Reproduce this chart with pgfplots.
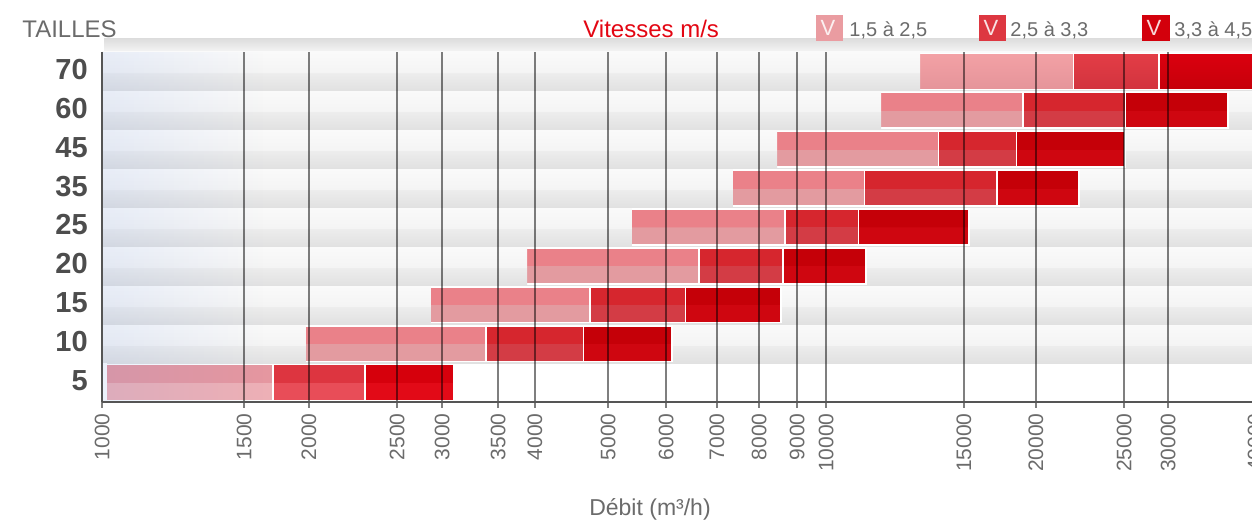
\documentclass[border=0pt]{standalone}
\usepackage{pgfplots}
\pgfplotsset{compat=1.18}
\usepackage{pgfplotstable}
\usepackage{fontspec}
\setmainfont{Liberation Sans}
\usetikzlibrary{fadings}

% colours
\definecolor{oneT}{HTML}{EA8189}\definecolor{oneB}{HTML}{E39BA0}
\definecolor{twoT}{HTML}{D6262E}\definecolor{twoB}{HTML}{D33C45}
\definecolor{thrT}{HTML}{C50008}\definecolor{thrB}{HTML}{CF0610}
\definecolor{oneTa}{HTML}{E597A0}\definecolor{oneBa}{HTML}{EDB0B6}
\definecolor{twoTa}{HTML}{DD3540}\definecolor{twoBa}{HTML}{E84D58}
\definecolor{thrTa}{HTML}{D6000C}\definecolor{thrBa}{HTML}{E20A17}
\definecolor{oneTb}{HTML}{F3A1A5}\definecolor{oneBb}{HTML}{E5949A}
\definecolor{twoTb}{HTML}{E33D46}\definecolor{twoBb}{HTML}{D2333E}
\definecolor{thrTb}{HTML}{DB000F}\definecolor{thrBb}{HTML}{C6000A}
\definecolor{bandT}{HTML}{FAFAFA}\definecolor{bandM2}{HTML}{F4F4F4}
\definecolor{bandM}{HTML}{EDEDED}\definecolor{bandB}{HTML}{E1E1E1}
\definecolor{ticgray}{HTML}{6B6B6B}\definecolor{ylabgray}{HTML}{4D4D4D}
\definecolor{axisgray}{HTML}{555555}\definecolor{titred}{HTML}{E30613}
\definecolor{tintblue}{HTML}{6E96E6}
\definecolor{legA}{HTML}{EA9CA1}\definecolor{legB}{HTML}{DD3741}\definecolor{legC}{HTML}{D3000C}

% glossy shadings (bottom 25bp .. top 75bp)
\pgfdeclareverticalshading{sOne}{100bp}{color(0bp)=(oneB); color(50bp)=(oneB); color(50bp)=(oneT); color(100bp)=(oneT)}
\pgfdeclareverticalshading{sTwo}{100bp}{color(0bp)=(twoB); color(50bp)=(twoB); color(50bp)=(twoT); color(100bp)=(twoT)}
\pgfdeclareverticalshading{sThr}{100bp}{color(0bp)=(thrB); color(50bp)=(thrB); color(50bp)=(thrT); color(100bp)=(thrT)}
\pgfdeclareverticalshading{sOneA}{100bp}{color(0bp)=(oneBa); color(50bp)=(oneBa); color(50bp)=(oneTa); color(100bp)=(oneTa)}
\pgfdeclareverticalshading{sTwoA}{100bp}{color(0bp)=(twoBa); color(50bp)=(twoBa); color(50bp)=(twoTa); color(100bp)=(twoTa)}
\pgfdeclareverticalshading{sThrA}{100bp}{color(0bp)=(thrBa); color(50bp)=(thrBa); color(50bp)=(thrTa); color(100bp)=(thrTa)}
\pgfdeclareverticalshading{sOneB}{100bp}{color(0bp)=(oneBb); color(25bp)=(oneBb); color(75bp)=(oneTb); color(100bp)=(oneTb)}
\pgfdeclareverticalshading{sTwoB}{100bp}{color(0bp)=(twoBb); color(25bp)=(twoBb); color(75bp)=(twoTb); color(100bp)=(twoTb)}
\pgfdeclareverticalshading{sThrB}{100bp}{color(0bp)=(thrBb); color(25bp)=(thrBb); color(75bp)=(thrTb); color(100bp)=(thrTb)}
\pgfdeclareverticalshading{band}{100bp}{color(0bp)=(bandB); color(25bp)=(bandB); color(48bp)=(bandM); color(48bp)=(bandM2); color(75bp)=(bandT); color(100bp)=(bandT)}

% row: 0=5, 1=10, 2=15, 3=20, 4=25, 5=35, 6=45, 7=60, 8=70 ; flow in m3/h
\pgfplotstableread{
row start end1 end2 end3
0 1016 1722 2308 3064
1 1913 3392 4626 6127
2 2847 4721 6397 8665
3 3864 6676 8721 11355
4 5395 8777 11088 15760
5 7439 11302 17226 22360
6 8557 14304 18333 25882
7 11912 18716 25925 35920
8 13487 21973 28843 40000
}\flowdata

\pgfplotsset{
  seg/.style={xbar, bar width=0.92, bar shift=0pt, draw=white, line width=0.8pt, shade, shading=#1, forget plot},
  bandbar/.style={xbar, bar width=1, bar shift=0pt, draw=none, shade, shading=band, forget plot},
}

\begin{document}
\begin{tikzpicture}
\begin{scope}[x=0.5pt,y=-0.5pt]
  \shade[top color=black!13, bottom color=black!4] (104,39) rectangle (1252,52);
  \node[anchor=base west, inner sep=0pt, font=\fontsize{12}{14}\selectfont, text=ticgray] at (22,38) {TAILLES};
  \node[anchor=base west, inner sep=0pt, font=\fontsize{12}{14}\selectfont, text=titred] at (583,38) {Vitesses m/s};
  \fill[legA] (816,15) rectangle (843,41);
  \fill[legB] (979,15) rectangle (1006,41);
  \fill[legC] (1142,15) rectangle (1170,41);
  \node[text=white, opacity=0.85, inner sep=0pt, font=\fontsize{11}{13}\selectfont] at (828,28) {V};
  \node[text=white, opacity=0.85, inner sep=0pt, font=\fontsize{11}{13}\selectfont] at (991,28) {V};
  \node[text=white, opacity=0.85, inner sep=0pt, font=\fontsize{11}{13}\selectfont] at (1154,28) {V};
  \node[anchor=base west, inner sep=0pt, font=\fontsize{10}{12}\selectfont, text=ticgray] at (849,37) {1,5 à 2,5};
  \node[anchor=base west, inner sep=0pt, font=\fontsize{10}{12}\selectfont, text=ticgray] at (1010,37) {2,5 à 3,3};
  \node[anchor=base west, inner sep=0pt, font=\fontsize{10}{12}\selectfont, text=ticgray] at (1174,37) {3,3 à 4,5};
  \node[anchor=base, inner sep=0pt, font=\fontsize{11.5}{13}\selectfont, text=ticgray] at (650,516) {Débit (m³/h)};
\end{scope}
\begin{axis}[
  at={(51pt,-201pt)}, anchor=south west,
  scale only axis, width=579.95pt, height=175pt,
  xmode=log, xmin=1000, xmax=40000, ymin=-0.5, ymax=8.5,
  log origin x=infty,
  axis x line*=bottom, axis y line*=left,
  axis line style={line width=1pt, draw=axisgray, -},
  xtick={1000,1571,1931,2556,2949,3524,3963,5000,6012,7069,8083,9119,10000,15506,19500,25799,29683,39140},
  xticklabels={1000,1500,2000,2500,3000,3500,4000,5000,6000,7000,8000,9000,10000,15000,20000,25000,30000,40000},
  ytick={0,...,8}, yticklabels={5,10,15,20,25,35,45,60,70},
  xmajorgrids, grid style={line width=0.7pt, draw=black, opacity=0.5},
  tick align=outside, major tick length=3pt,
  xtick style={line width=0.7pt, draw=black, opacity=0.5},
  ytick style={draw=none},
  minor tick style={draw=none}, minor tick length=0pt,
  xticklabel style={rotate=90, anchor=east, inner sep=0pt, xshift=-2.5pt, font=\fontsize{10.5}{12}\selectfont, text=ticgray},
  yticklabel style={anchor=east, inner sep=0pt, xshift=-4pt, yshift=1pt, font=\fontsize{14.5}{16}\selectfont\bfseries, text=ylabgray},
  /pgf/number format/assume math mode=true,
  axis on top,
]
% row backgrounds (one bar per row)
\pgfplotsinvokeforeach{0.5:1.5,1.5:2.5,2.5:3.5,3.5:4.5,4.5:5.5,5.5:6.5,6.5:7.5,7.5:8.5}{
  \addplot[bandbar, restrict y to domain=#1] table[x expr=40000, y=row] {\flowdata};
}
% 3,3 a 4,5
\pgfplotsinvokeforeach{0.5:1.5,1.5:2.5,2.5:3.5,3.5:4.5,4.5:5.5,5.5:6.5,6.5:7.5}{
  \addplot[seg=sThr, restrict y to domain=#1] table[x=end3, y=row] {\flowdata};
}
\addplot[seg=sThrA, restrict y to domain=-0.5:0.5] table[x=end3, y=row] {\flowdata};
\addplot[seg=sThrB, restrict y to domain=7.5:8.5] table[x=end3, y=row] {\flowdata};
% 2,5 a 3,3
\pgfplotsinvokeforeach{0.5:1.5,1.5:2.5,2.5:3.5,3.5:4.5,4.5:5.5,5.5:6.5,6.5:7.5}{
  \addplot[seg=sTwo, restrict y to domain=#1] table[x=end2, y=row] {\flowdata};
}
\addplot[seg=sTwoA, restrict y to domain=-0.5:0.5] table[x=end2, y=row] {\flowdata};
\addplot[seg=sTwoB, restrict y to domain=7.5:8.5] table[x=end2, y=row] {\flowdata};
% 1,5 a 2,5
\pgfplotsinvokeforeach{0.5:1.5,1.5:2.5,2.5:3.5,3.5:4.5,4.5:5.5,5.5:6.5,6.5:7.5}{
  \addplot[seg=sOne, restrict y to domain=#1] table[x=end1, y=row] {\flowdata};
}
\addplot[seg=sOneA, restrict y to domain=-0.5:0.5] table[x=end1, y=row] {\flowdata};
\addplot[seg=sOneB, restrict y to domain=7.5:8.5] table[x=end1, y=row] {\flowdata};
% start of the ranges: row background again left of the start value
\pgfplotsinvokeforeach{0.5:1.5,1.5:2.5,2.5:3.5,3.5:4.5,4.5:5.5,5.5:6.5,6.5:7.5,7.5:8.5}{
  \addplot[bandbar, restrict y to domain=#1] table[x=start, y=row] {\flowdata};
}
\addplot[xbar, bar width=1, bar shift=0pt, draw=none, fill=white, forget plot, restrict y to domain=-0.5:0.5] table[x=start, y=row] {\flowdata};
% bluish tint on the left
\fill[tintblue, opacity=0.13, path fading=east] (rel axis cs:0,0) rectangle (rel axis cs:0.14,1);
\end{axis}
\begin{scope}[x=0.5pt,y=-0.5pt]
  \pgfresetboundingbox
  \path[use as bounding box] (0,0) rectangle (1252,522);
\end{scope}
\end{tikzpicture}
\end{document}
